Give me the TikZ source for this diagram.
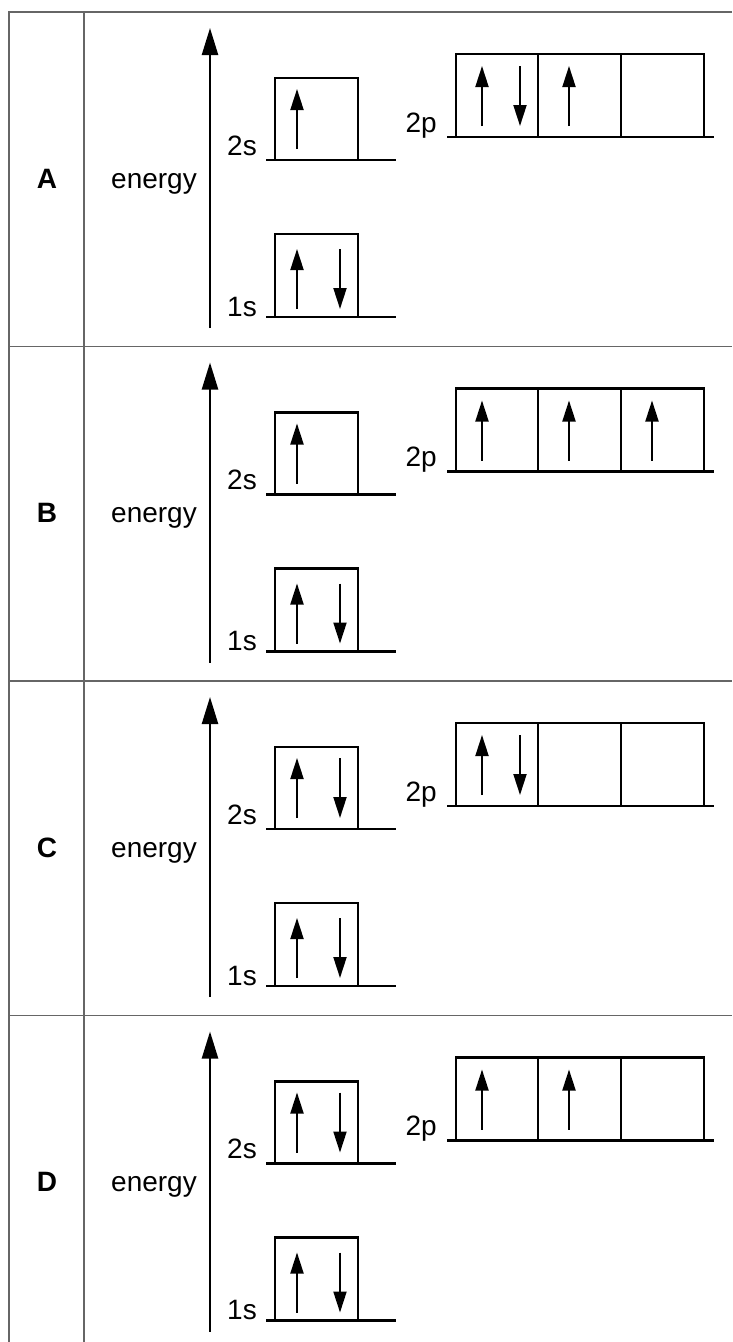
\documentclass[tikz,border=0pt]{standalone}
\usepackage{fontspec}
\setmainfont{Liberation Sans}
\usetikzlibrary{arrows.meta}
\tikzset{
  frame/.style={draw=black!60, line width=1.4pt},
  orb/.style={draw, line width=2.6pt, inner sep=0pt, outer sep=0pt, anchor=north west},
  lvl/.style={line width=2.6pt},
  axisarrow/.style={line width=2.4pt, -{Triangle[length=27pt,width=16pt]}},
  spin/.style={line width=2pt, -{Triangle[length=21pt,width=13pt]}},
  lbl/.style={font=\fontsize{28}{30}\selectfont, inner sep=0pt, anchor=base east},
  letterlbl/.style={font=\bfseries\fontsize{28}{30}\selectfont, inner sep=0pt, anchor=base},
}
% #1 panel letter, #2 top of the panel
\newcommand\basepanel[2]{%
  \begin{scope}[shift={(0,#2)}]
    \node[letterlbl] (lab#1) at (47,176) {#1};
    \node[lbl, anchor=base west] (en#1) at (111,176) {energy};
    \coordinate (axlo#1) at (210,316);
    \coordinate (axhi#1) at (210,16);
    \draw[axisarrow] (axlo#1) -- (axhi#1);
    % 2s
    \coordinate (s2l#1) at (266,148);
    \coordinate (s2r#1) at (396,148);
    \draw[lvl] (s2l#1) -- (s2r#1);
    \node[orb, minimum width=83pt, minimum height=82pt] (s2#1) at (275,66) {};
    \node[lbl] (s2t#1) at (257,143) {2s};
    % 1s
    \coordinate (s1l#1) at (266,305);
    \coordinate (s1r#1) at (396,305);
    \draw[lvl] (s1l#1) -- (s1r#1);
    \node[orb, minimum width=83pt, minimum height=83pt] (s1#1) at (275,222) {};
    \node[lbl] (s1t#1) at (257,304) {1s};
    % 2p
    \coordinate (p2l#1) at (447,125);
    \coordinate (p2r#1) at (714,125);
    \draw[lvl] (p2l#1) -- (p2r#1);
    \node[orb, minimum width=82pt, minimum height=83pt] (pa#1) at (456,42) {};
    \node[orb, minimum width=83pt, minimum height=83pt] (pb#1) at (538,42) {};
    \node[orb, minimum width=83pt, minimum height=83pt] (pc#1) at (621,42) {};
    \node[lbl] (p2t#1) at (437,120) {2p};
    % 1s pair (always full)
    \draw[spin] (297,297) -- (297,237);
    \draw[spin] (340,237) -- (340,297);
  \end{scope}}
\begin{document}
\begin{tikzpicture}[x=1pt,y=-1pt]
\useasboundingbox (0,0) rectangle (732,1342);
% table frame
\coordinate (tl) at (9,12);
\coordinate (tr) at (732,12);
\coordinate (bl) at (9,1342);
\coordinate (ml) at (84,12);
\coordinate (mb) at (84,1342);
\draw[frame] (tr) -- (tl) -- (bl);
\draw[frame] (ml) -- (mb);
\coordinate (sepAl) at (9,346.5);   \coordinate (sepAr) at (732,346.5);
\coordinate (sepBl) at (9,681);     \coordinate (sepBr) at (732,681);
\coordinate (sepCl) at (9,1015.5);  \coordinate (sepCr) at (732,1015.5);
\draw[frame] (sepAl) -- (sepAr);
\draw[frame] (sepBl) -- (sepBr);
\draw[frame] (sepCl) -- (sepCr);

% panel A
\basepanel{A}{12}
\begin{scope}[shift={(0,12)}]
  \draw[spin] (297,137) -- (297,77);
  \draw[spin] (482,114) -- (482,54);
  \draw[spin] (520,54) -- (520,114);
  \draw[spin] (569,114) -- (569,54);
\end{scope}
% panel B
\basepanel{B}{346.5}
\begin{scope}[shift={(0,346.5)}]
  \draw[spin] (297,137) -- (297,77);
  \draw[spin] (482,114) -- (482,54);
  \draw[spin] (569,114) -- (569,54);
  \draw[spin] (652,114) -- (652,54);
\end{scope}
% panel C
\basepanel{C}{681}
\begin{scope}[shift={(0,681)}]
  \draw[spin] (297,137) -- (297,77);
  \draw[spin] (340,77) -- (340,137);
  \draw[spin] (482,114) -- (482,54);
  \draw[spin] (520,54) -- (520,114);
\end{scope}
% panel D
\basepanel{D}{1015.5}
\begin{scope}[shift={(0,1015.5)}]
  \draw[spin] (297,137) -- (297,77);
  \draw[spin] (340,77) -- (340,137);
  \draw[spin] (482,114) -- (482,54);
  \draw[spin] (569,114) -- (569,54);
\end{scope}
\end{tikzpicture}
\end{document}
